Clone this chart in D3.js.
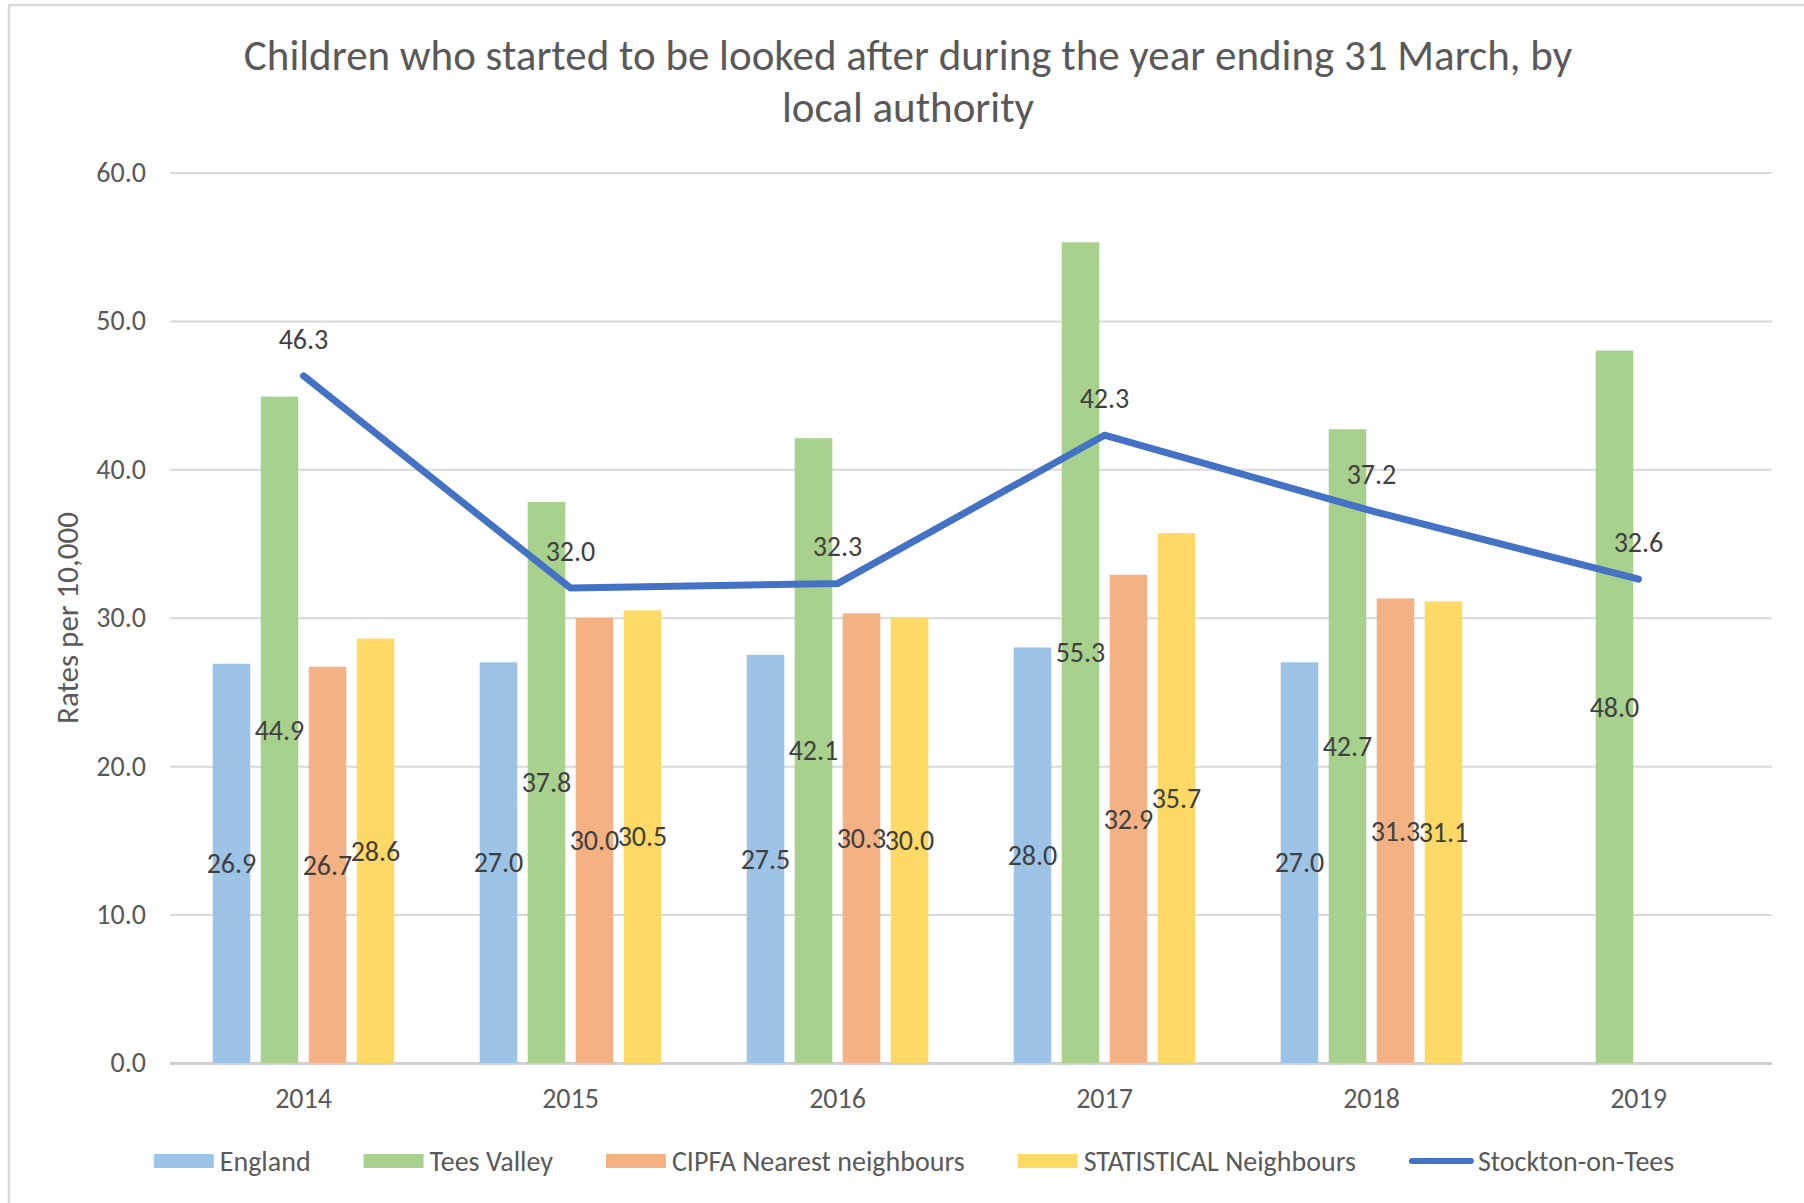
<!DOCTYPE html>
<html>
<head>
<meta charset="utf-8">
<script src="https://cdn.jsdelivr.net/npm/d3@7"></script>
<style>
  body { margin: 0; background: #fff; }
  svg { display: block; font-family: Carlito, Calibri, Lato, sans-serif; }
</style>
</head>
<body>
<svg width="1804" height="1203"></svg>
<script>
// chart data
var years = ["2014", "2015", "2016", "2017", "2018", "2019"];
var england = [26.9, 27.0, 27.5, 28.0, 27.0, null];
var teesValley = [44.9, 37.8, 42.1, 55.3, 42.7, 48.0];
var cipfa = [26.7, 30.0, 30.3, 32.9, 31.3, null];
var statistical = [28.6, 30.5, 30.0, 35.7, 31.1, null];
var stockton = [46.3, 32.0, 32.3, 42.3, 37.2, 32.6];
var barNames = ["England", "Tees Valley", "CIPFA Nearest neighbours", "STATISTICAL Neighbours"];
var lineName = "Stockton-on-Tees";
var yTicks = [0, 10, 20, 30, 40, 50, 60];

var barValues = [england, teesValley, cipfa, statistical];
var barColors = ["#9dc3e6", "#a9d18e", "#f4b183", "#ffd966"];
var lineColor = "#4472c4";

var svg = d3.select("svg");

// outer chart border
svg.append("rect")
    .attr("x", 9).attr("y", 5)
    .attr("width", 1830).attr("height", 1230)
    .attr("fill", "none")
    .attr("stroke", "#d9d9d9")
    .attr("stroke-width", 2.5);

var plotLeft = 170, plotRight = 1772, plotTop = 172.5, plotBottom = 1063;

var x0 = d3.scaleBand()
    .domain(years)
    .range([plotLeft, plotRight])
    .paddingInner(0.32)
    .paddingOuter(0.16);

var x1 = d3.scaleBand()
    .domain(barNames)
    .range([0, x0.bandwidth()])
    .paddingInner(0.217);

var y = d3.scaleLinear()
    .domain([0, 60])
    .range([plotBottom, plotTop]);

// title
var title = svg.append("text")
    .attr("text-anchor", "middle")
    .attr("fill", "#595959")
    .style("font-size", "43px");
title.append("tspan").attr("x", 908).attr("y", 70)
    .text("Children who started to be looked after during the year ending 31 March, by");
title.append("tspan").attr("x", 908).attr("y", 122)
    .text("local authority");

// gridlines + y labels
var yAxis = svg.append("g")
    .attr("transform", "translate(" + plotLeft + ",0)")
    .call(d3.axisLeft(y)
        .tickValues(yTicks)
        .tickFormat(d3.format(".1f"))
        .tickSize(-(plotRight - plotLeft))
        .tickPadding(24));
yAxis.select(".domain").remove();
yAxis.selectAll(".tick line")
    .attr("stroke", "#d9d9d9")
    .attr("stroke-width", 2);
yAxis.selectAll(".tick")
    .filter(function(d) { return d == 0; })
    .select("line")
    .attr("stroke", "#d0d0d0")
    .attr("stroke-width", 3);
yAxis.selectAll(".tick text")
    .attr("fill", "#595959")
    .style("font-family", "Carlito, Calibri, Lato, sans-serif")
    .style("font-size", "28px");

// x labels
var xAxis = svg.append("g")
    .attr("transform", "translate(0," + plotBottom + ")")
    .call(d3.axisBottom(x0).tickSize(0).tickPadding(25));
xAxis.select(".domain").remove();
xAxis.selectAll(".tick text")
    .attr("fill", "#595959")
    .style("font-family", "Carlito, Calibri, Lato, sans-serif")
    .style("font-size", "28px");

// y axis title
svg.append("text")
    .attr("transform", "translate(78,618) rotate(-90)")
    .attr("text-anchor", "middle")
    .attr("fill", "#595959")
    .style("font-size", "31px")
    .text("Rates per 10,000");

// bars
var barData = [];
years.forEach(function(yr, i) {
    barNames.forEach(function(name, j) {
        if (barValues[j][i] != null) {
            barData.push({year: yr, name: name, value: barValues[j][i], color: barColors[j]});
        }
    });
});

svg.append("g")
    .selectAll("rect")
    .data(barData)
    .enter().append("rect")
    .attr("x", function(d) { return x0(d.year) + x1(d.name); })
    .attr("y", function(d) { return y(d.value); })
    .attr("width", x1.bandwidth())
    .attr("height", function(d) { return y(0) - y(d.value); })
    .attr("fill", function(d) { return d.color; });

// line
var lineData = years.map(function(yr, i) { return {year: yr, value: stockton[i]}; });
var line = d3.line()
    .x(function(d) { return x0(d.year) + x0.bandwidth() / 2; })
    .y(function(d) { return y(d.value); });

svg.append("path")
    .datum(lineData)
    .attr("d", line)
    .attr("fill", "none")
    .attr("stroke", lineColor)
    .attr("stroke-width", 7)
    .attr("stroke-linejoin", "round")
    .attr("stroke-linecap", "round");

// bar labels, centred in the bar
svg.append("g")
    .selectAll("text")
    .data(barData)
    .enter().append("text")
    .attr("x", function(d) { return x0(d.year) + x1(d.name) + x1.bandwidth() / 2; })
    .attr("y", function(d) { return y(d.value / 2); })
    .attr("dy", "0.35em")
    .attr("text-anchor", "middle")
    .attr("fill", "#404040")
    .style("font-size", "28px")
    .text(function(d) { return d.value.toFixed(1); });

// line labels, above the point
svg.append("g")
    .selectAll("text")
    .data(lineData)
    .enter().append("text")
    .attr("x", function(d) { return x0(d.year) + x0.bandwidth() / 2; })
    .attr("y", function(d) { return y(d.value) - 37; })
    .attr("dy", "0.35em")
    .attr("text-anchor", "middle")
    .attr("fill", "#404040")
    .style("font-size", "28px")
    .text(function(d) { return d.value.toFixed(1); });

// legend
var legend = svg.append("g").attr("class", "legend");
var legendItems = barNames.map(function(n, i) { return {name: n, color: barColors[i], type: "bar"}; });
legendItems.push({name: lineName, color: lineColor, type: "line"});

var lx = 0, legendY = 1161;
legendItems.forEach(function(item) {
    var g = legend.append("g");
    if (item.type == "bar") {
        g.append("rect")
            .attr("x", lx).attr("y", legendY - 7)
            .attr("width", 60).attr("height", 14)
            .attr("fill", item.color);
        lx += 66;
    } else {
        g.append("line")
            .attr("x1", lx + 3).attr("x2", lx + 62)
            .attr("y1", legendY).attr("y2", legendY)
            .attr("stroke", item.color)
            .attr("stroke-width", 6)
            .attr("stroke-linecap", "round");
        lx += 69;
    }
    var t = g.append("text")
        .attr("x", lx).attr("y", legendY)
        .attr("dy", "0.35em")
        .attr("fill", "#595959")
        .style("font-size", "28px")
        .text(item.name);
    lx += t.node().getComputedTextLength() + 53;
});
lx -= 53;
legend.attr("transform", "translate(" + (914 - lx / 2) + ",0)");
</script>
</body>
</html>
